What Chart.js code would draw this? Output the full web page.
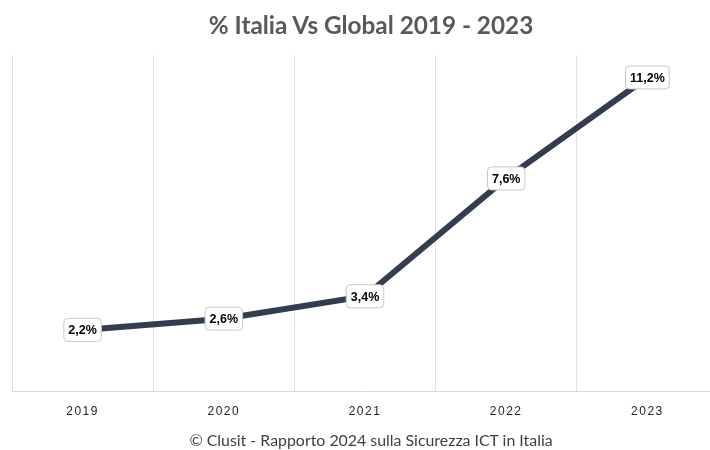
<!DOCTYPE html>
<html lang="it">
<head>
<meta charset="UTF-8">
<title>% Italia Vs Global 2019 - 2023</title>
<script src="https://cdn.jsdelivr.net/npm/chart.js@4.4.1/dist/chart.umd.min.js"></script>
<style>
  html, body { margin: 0; padding: 0; background: #fff; overflow: hidden; }
  .wrap { position: relative; width: 710px; height: 450px; overflow: hidden; }
  .title {
    position: absolute; left: 0; width: 742px; top: 10px;
    text-align: center; font-family: Lato, sans-serif; font-weight: 700;
    font-size: 24.3px; color: #595959; line-height: 30px;
  }
  .footer {
    position: absolute; left: 0; width: 742px; top: 430px;
    text-align: center; font-family: Lato, sans-serif; font-weight: 400;
    font-size: 15.9px; color: #404040; line-height: 20px;
  }
  .chart-box { position: absolute; left: 0; top: 0; width: 720px; height: 450px; }
</style>
</head>
<body>
<div class="wrap">
  <div class="chart-box"><canvas id="chart"></canvas></div>
  <div class="title">% Italia Vs Global 2019 - 2023</div>
  <div class="footer">© Clusit - Rapporto 2024 sulla Sicurezza ICT in Italia</div>
</div>

<script>
// data
const years = ['2019', '2020', '2021', '2022', '2023'];
const italyShare = [2.2, 2.6, 3.4, 7.6, 11.2];
const pointLabels = ['2,2%', '2,6%', '3,4%', '7,6%', '11,2%'];

// letter spacing for the year ticks only, reset before the line is drawn
const spacing = {
  id: 'spacing',
  beforeDraw(chart) { chart.ctx.letterSpacing = '1.5px'; },
  beforeDatasetsDraw(chart) { chart.ctx.letterSpacing = '0px'; }
};

// boxed value labels centred on the points
const boxLabels = {
  id: 'boxLabels',
  afterDatasetsDraw(chart) {
    const ctx = chart.ctx;
    const meta = chart.getDatasetMeta(0);
    ctx.save();
    ctx.font = 'bold 12.5px "Liberation Sans", Arial, sans-serif';
    ctx.textAlign = 'center';
    ctx.textBaseline = 'middle';
    meta.data.forEach((pt, i) => {
      const txt = pointLabels[i];
      const w = ctx.measureText(txt).width + 9;
      const h = 23;
      ctx.beginPath();
      ctx.roundRect(pt.x - w / 2, pt.y - h / 2, w, h, 4);
      ctx.fillStyle = '#fff';
      ctx.fill();
      ctx.lineWidth = 1;
      ctx.strokeStyle = '#c8c8c8';
      ctx.stroke();
      ctx.fillStyle = '#000';
      ctx.fillText(txt, pt.x, pt.y + 1);
    });
    ctx.restore();
  }
};

const ctx = document.getElementById('chart').getContext('2d');
new Chart(ctx, {
  type: 'line',
  data: {
    labels: years,
    datasets: [{
      data: italyShare,
      borderColor: '#323e50',
      borderWidth: 6,
      pointRadius: 0,
      tension: 0,
      fill: false
    }]
  },
  options: {
    responsive: true,
    maintainAspectRatio: false,
    animation: false,
    layout: { padding: { top: 55, left: 12, right: 2, bottom: 18 } },
    plugins: { legend: { display: false }, tooltip: { enabled: false } },
    scales: {
      x: {
        offset: true,
        grid: { offset: true, color: '#e3e3e3', lineWidth: 1, drawTicks: false },
        border: { color: '#d9d9d9' },
        ticks: {
          padding: 13,
          color: '#222',
          font: { family: '"Liberation Sans", Arial, sans-serif', size: 12 }
        }
      },
      y: {
        display: false,
        min: 0,
        max: 12
      }
    }
  },
  plugins: [spacing, boxLabels]
});
</script>
</body>
</html>
